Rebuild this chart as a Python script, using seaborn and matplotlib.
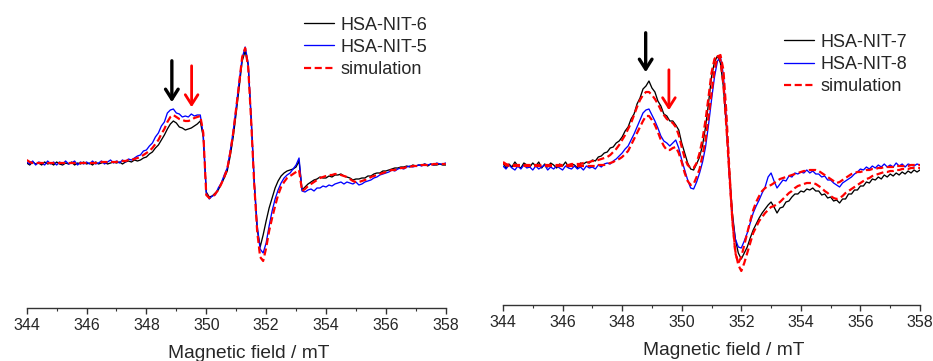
import numpy as np
import matplotlib
matplotlib.use("Agg")
import matplotlib.pyplot as plt
import seaborn as sns

# magnetic field grid, 0.1 mT steps (mT)
field = np.round(np.arange(344.0, 358.05, 0.1), 1)

# ---- left panel (a.u.) ----
nit6 = [
    0.00, -0.02, 0.01, -0.01, 0.00, -0.02, 0.01, -0.01, 0.00, -0.02,
    0.01, -0.01, -0.02, 0.00, -0.01, 0.01, -0.02, 0.00, -0.01, 0.01,
    -0.01, 0.00, -0.02, 0.01, -0.01, 0.00, 0.01, -0.01, 0.00, 0.01,
    0.00, 0.01, -0.01, 0.01, 0.02, 0.01, 0.03, 0.02, 0.03, 0.05,
    0.06, 0.09, 0.11, 0.15, 0.18, 0.23, 0.28, 0.34, 0.39, 0.42,
    0.40, 0.36, 0.35, 0.33, 0.34, 0.35, 0.37, 0.39, 0.42, 0.26,
    -0.29, -0.34, -0.33, -0.30, -0.27, -0.21, -0.15, -0.08, 0.07, 0.26,
    0.50, 0.76, 1.02, 1.12, 0.98, 0.44, -0.18, -0.66, -0.84, -0.72,
    -0.58, -0.45, -0.35, -0.25, -0.18, -0.13, -0.10, -0.08, -0.07, -0.06,
    -0.04, 0.02, -0.27, -0.24, -0.21, -0.19, -0.17, -0.16, -0.14, -0.15,
    -0.15, -0.13, -0.14, -0.12, -0.12, -0.11, -0.13, -0.14, -0.15, -0.17,
    -0.16, -0.16, -0.15, -0.15, -0.13, -0.13, -0.11, -0.10, -0.10, -0.08,
    -0.08, -0.07, -0.06, -0.05, -0.05, -0.04, -0.04, -0.03, -0.04, -0.02,
    -0.03, -0.02, -0.02, -0.01, -0.03, -0.01, -0.02, -0.02, -0.01, -0.02,
    -0.02,
]
nit5 = [
    0.01, -0.01, 0.02, -0.02, 0.01, 0.00, -0.02, 0.02, -0.01, 0.01,
    -0.02, 0.01, -0.01, 0.02, -0.01, 0.00, 0.02, -0.02, 0.01, -0.01,
    0.01, -0.01, 0.02, -0.01, 0.00, 0.02, -0.01, 0.01, 0.03, 0.00,
    0.02, 0.00, 0.03, 0.01, 0.04, 0.03, 0.05, 0.07, 0.08, 0.12,
    0.13, 0.17, 0.20, 0.26, 0.30, 0.37, 0.41, 0.50, 0.53, 0.54,
    0.50, 0.49, 0.46, 0.47, 0.46, 0.49, 0.47, 0.48, 0.48, 0.28,
    -0.30, -0.36, -0.33, -0.32, -0.25, -0.20, -0.12, -0.05, 0.12, 0.32,
    0.56, 0.82, 1.05, 1.16, 1.00, 0.45, -0.18, -0.62, -0.86, -0.90,
    -0.80, -0.63, -0.48, -0.36, -0.27, -0.20, -0.15, -0.12, -0.10, -0.06,
    -0.02, 0.05, -0.28, -0.29, -0.27, -0.26, -0.28, -0.25, -0.25, -0.23,
    -0.24, -0.22, -0.23, -0.21, -0.20, -0.19, -0.21, -0.19, -0.20, -0.21,
    -0.19, -0.22, -0.21, -0.19, -0.18, -0.17, -0.15, -0.14, -0.12, -0.11,
    -0.10, -0.09, -0.07, -0.08, -0.06, -0.05, -0.06, -0.04, -0.03, -0.04,
    -0.03, -0.02, -0.03, -0.01, -0.02, -0.01, -0.02, 0.00, -0.01, -0.01,
    0.00,
]
sim_left = [
    0.03, 0.01, 0.00, 0.00, 0.00, 0.00, 0.00, 0.00, 0.00, 0.00,
    0.00, 0.00, 0.00, 0.00, 0.00, 0.00, 0.00, 0.00, 0.00, 0.00,
    0.00, 0.00, 0.00, 0.00, 0.01, 0.01, 0.01, 0.01, 0.01, 0.01,
    0.01, 0.02, 0.02, 0.02, 0.03, 0.03, 0.04, 0.05, 0.06, 0.08,
    0.10, 0.12, 0.15, 0.19, 0.23, 0.29, 0.34, 0.41, 0.46, 0.48,
    0.46, 0.44, 0.43, 0.42, 0.42, 0.43, 0.45, 0.46, 0.47, 0.30,
    -0.32, -0.35, -0.34, -0.31, -0.27, -0.21, -0.14, -0.06, 0.10, 0.30,
    0.55, 0.80, 1.06, 1.15, 0.96, 0.42, -0.20, -0.68, -0.94, -0.98,
    -0.85, -0.68, -0.55, -0.43, -0.32, -0.24, -0.19, -0.15, -0.13, -0.11,
    -0.09, -0.07, -0.28, -0.26, -0.23, -0.21, -0.19, -0.17, -0.15, -0.14,
    -0.13, -0.12, -0.12, -0.11, -0.11, -0.12, -0.13, -0.14, -0.16, -0.18,
    -0.19, -0.19, -0.18, -0.17, -0.16, -0.14, -0.13, -0.12, -0.11, -0.10,
    -0.09, -0.08, -0.07, -0.07, -0.06, -0.05, -0.05, -0.04, -0.04, -0.03,
    -0.03, -0.03, -0.02, -0.02, -0.02, -0.02, -0.01, -0.01, -0.01, -0.01,
    -0.01,
]

# ---- right panel (a.u.) ----
nit7 = [
    0.02, -0.03, 0.01, -0.02, 0.03, -0.01, -0.03, 0.02, 0.00, -0.02,
    0.02, -0.01, 0.03, -0.03, 0.01, -0.02, 0.02, 0.00, -0.03, 0.01,
    -0.01, 0.03, -0.02, 0.01, 0.00, -0.03, 0.02, 0.01, 0.03, 0.02,
    0.05, 0.04, 0.08, 0.09, 0.12, 0.13, 0.17, 0.18, 0.22, 0.24,
    0.28, 0.34, 0.38, 0.46, 0.51, 0.61, 0.67, 0.76, 0.79, 0.84,
    0.77, 0.73, 0.64, 0.59, 0.51, 0.49, 0.44, 0.44, 0.40, 0.35,
    0.22, 0.12, 0.02, -0.04, -0.05, 0.01, 0.08, 0.20, 0.38, 0.62,
    0.88, 1.03, 1.09, 1.02, 0.78, 0.38, -0.05, -0.48, -0.74, -0.88,
    -0.94, -0.88, -0.82, -0.73, -0.65, -0.59, -0.53, -0.48, -0.44, -0.40,
    -0.37, -0.42, -0.48, -0.43, -0.42, -0.37, -0.36, -0.32, -0.29, -0.29,
    -0.26, -0.27, -0.24, -0.25, -0.23, -0.26, -0.26, -0.30, -0.29, -0.33,
    -0.32, -0.36, -0.35, -0.38, -0.34, -0.34, -0.29, -0.29, -0.25, -0.25,
    -0.21, -0.21, -0.17, -0.18, -0.14, -0.15, -0.12, -0.14, -0.10, -0.12,
    -0.09, -0.11, -0.08, -0.10, -0.07, -0.09, -0.06, -0.08, -0.05, -0.07,
    -0.05,
]
nit8 = [
    -0.01, -0.04, 0.00, -0.03, -0.05, -0.01, -0.04, 0.00, -0.03, -0.02,
    -0.05, -0.01, -0.04, -0.02, 0.00, -0.05, -0.02, -0.04, -0.01, -0.03,
    -0.05, -0.01, -0.03, -0.04, -0.01, -0.04, -0.02, -0.05, -0.01, -0.03,
    -0.02, -0.04, 0.00, -0.02, 0.01, 0.02, 0.01, 0.04, 0.06, 0.09,
    0.12, 0.16, 0.19, 0.25, 0.31, 0.38, 0.45, 0.52, 0.55, 0.56,
    0.50, 0.44, 0.37, 0.29, 0.24, 0.22, 0.19, 0.22, 0.25, 0.17,
    0.05, -0.05, -0.15, -0.23, -0.24, -0.17, -0.08, 0.03, 0.18, 0.40,
    0.65, 0.88, 1.04, 1.08, 0.90, 0.45, -0.12, -0.52, -0.74, -0.82,
    -0.83, -0.76, -0.68, -0.58, -0.48, -0.41, -0.35, -0.28, -0.22, -0.12,
    -0.08, -0.16, -0.23, -0.19, -0.15, -0.16, -0.11, -0.12, -0.08, -0.09,
    -0.07, -0.08, -0.05, -0.08, -0.06, -0.09, -0.09, -0.12, -0.11, -0.15,
    -0.15, -0.18, -0.20, -0.22, -0.18, -0.16, -0.14, -0.12, -0.09, -0.07,
    -0.04, -0.05, -0.02, -0.04, -0.01, -0.03, 0.00, -0.02, 0.01, -0.02,
    0.00, -0.02, 0.02, -0.01, 0.01, -0.02, 0.01, 0.00, -0.01, 0.01,
    0.00,
]
sim_nit7 = [
    0.03, 0.01, 0.00, 0.00, 0.00, 0.00, 0.00, 0.00, 0.00, 0.00,
    0.00, 0.00, 0.00, 0.00, 0.00, 0.00, 0.00, 0.00, 0.00, 0.00,
    0.00, 0.00, 0.00, 0.01, 0.01, 0.01, 0.01, 0.02, 0.02, 0.03,
    0.04, 0.04, 0.05, 0.06, 0.07, 0.08, 0.10, 0.13, 0.16, 0.20,
    0.25, 0.30, 0.36, 0.42, 0.50, 0.58, 0.65, 0.70, 0.73, 0.73,
    0.70, 0.66, 0.61, 0.55, 0.50, 0.46, 0.44, 0.42, 0.38, 0.30,
    0.18, 0.07, 0.00, -0.03, -0.03, 0.02, 0.12, 0.26, 0.45, 0.68,
    0.92, 1.06, 1.10, 1.05, 0.80, 0.38, -0.10, -0.55, -0.86, -1.00,
    -1.06, -0.98, -0.88, -0.78, -0.68, -0.62, -0.56, -0.52, -0.48, -0.45,
    -0.42, -0.41, -0.39, -0.37, -0.34, -0.31, -0.28, -0.26, -0.23, -0.21,
    -0.20, -0.19, -0.18, -0.18, -0.18, -0.19, -0.21, -0.23, -0.26, -0.28,
    -0.31, -0.33, -0.34, -0.33, -0.31, -0.28, -0.26, -0.24, -0.22, -0.20,
    -0.18, -0.16, -0.14, -0.13, -0.11, -0.10, -0.09, -0.08, -0.07, -0.07,
    -0.06, -0.06, -0.05, -0.05, -0.04, -0.04, -0.04, -0.03, -0.03, -0.03,
    -0.03,
]
sim_nit8 = [
    0.02, 0.00, -0.01, -0.01, -0.01, -0.01, -0.01, -0.01, -0.01, -0.01,
    -0.01, -0.01, -0.01, -0.01, -0.01, -0.01, -0.01, -0.01, -0.01, -0.01,
    -0.01, -0.01, -0.01, -0.01, -0.01, -0.01, -0.01, -0.01, -0.01, -0.01,
    -0.01, -0.01, 0.00, 0.00, 0.00, 0.01, 0.02, 0.03, 0.05, 0.06,
    0.08, 0.11, 0.14, 0.20, 0.26, 0.32, 0.38, 0.44, 0.49, 0.49,
    0.45, 0.40, 0.33, 0.25, 0.19, 0.15, 0.15, 0.17, 0.18, 0.12,
    0.03, -0.08, -0.16, -0.20, -0.19, -0.12, -0.04, 0.10, 0.25, 0.48,
    0.72, 0.95, 1.08, 1.10, 0.95, 0.52, -0.05, -0.55, -0.88, -0.98,
    -0.92, -0.80, -0.68, -0.56, -0.45, -0.37, -0.31, -0.26, -0.23, -0.21,
    -0.20, -0.18, -0.16, -0.14, -0.13, -0.12, -0.11, -0.10, -0.09, -0.08,
    -0.07, -0.06, -0.06, -0.05, -0.05, -0.05, -0.06, -0.08, -0.10, -0.12,
    -0.14, -0.16, -0.18, -0.17, -0.15, -0.13, -0.11, -0.09, -0.08, -0.07,
    -0.07, -0.06, -0.05, -0.05, -0.04, -0.04, -0.03, -0.03, -0.02, -0.02,
    -0.02, -0.02, -0.01, -0.01, -0.01, -0.01, -0.01, 0.00, 0.00, 0.00,
    0.00,
]

# arrows marking the two nitroxide components: (field, top, tip, colour)
arrows_left = [(348.85, 1.05, 0.58, "black"), (349.51, 1.00, 0.53, "red")]
arrows_right = [(348.79, 1.35, 0.90, "black"), (349.57, 0.98, 0.52, "red")]

sns.set_style("white")
plt.rcParams["font.family"] = ["Liberation Sans", "DejaVu Sans"]
plt.rcParams["font.size"] = 13

fig = plt.figure(figsize=(9.33, 3.61), dpi=100)
ax1 = fig.add_axes([26.7 / 933, 53 / 361, 419 / 933, 298 / 361])
ax2 = fig.add_axes([503 / 933, 56 / 361, 417 / 933, 295 / 361])


def draw_panel(ax, exp1, exp2, sims, labels, arrows, ylim):
    sns.lineplot(x=field, y=exp1, ax=ax, color="black", lw=0.95, label=labels[0])
    sns.lineplot(x=field, y=exp2, ax=ax, color="#0000ff", lw=0.95, label=labels[1])
    for i, s in enumerate(sims):
        sns.lineplot(x=field, y=s, ax=ax, color="#ff0000", lw=1.6,
                     label="simulation" if i == 0 else None)
        ax.lines[-1].set_linestyle((0, (3.2, 1.6)))
    for xb, top, tip, col in arrows:
        ax.annotate("", xy=(xb, tip), xytext=(xb, top),
                    arrowprops=dict(arrowstyle="->,head_length=0.55,head_width=0.35",
                                    color=col, lw=2.4 if col == "black" else 2.0))
    ax.set_xlim(344, 358)
    ax.set_ylim(*ylim)
    ax.set_xticks(np.arange(344, 359, 2))
    ax.set_xticks(np.arange(345, 358, 2), minor=True)
    ax.set_yticks([])
    ax.set_ylabel("")
    ax.set_xlabel("Magnetic field / mT", labelpad=8, fontsize=13.8, x=0.529)
    for side in ["left", "right", "top"]:
        ax.spines[side].set_visible(False)
    ax.spines["bottom"].set_color("#333333")
    ax.spines["bottom"].set_linewidth(1.0)
    ax.tick_params(axis="x", which="major", direction="out", length=4, width=1,
                   color="#333333", pad=3.5, labelsize=11.5, bottom=True)
    ax.tick_params(axis="x", which="minor", direction="out", length=2.5, width=0.8,
                   color="#333333", bottom=True)


legend_kw = dict(loc="upper left", frameon=False, handlelength=1.65,
                 handletextpad=0.35, labelspacing=0.29, borderpad=0,
                 borderaxespad=0)

draw_panel(ax1, nit6, nit5, [sim_left], ["HSA-NIT-6", "HSA-NIT-5"],
           arrows_left, (-1.45, 1.53))
ax1.legend(bbox_to_anchor=(0.662, 0.978), **legend_kw)

draw_panel(ax2, nit7, nit8, [sim_nit7, sim_nit8], ["HSA-NIT-7", "HSA-NIT-8"],
           arrows_right, (-1.40, 1.55))
ax2.legend(bbox_to_anchor=(0.674, 0.92), **legend_kw)

fig.savefig("out.png", dpi=100)
